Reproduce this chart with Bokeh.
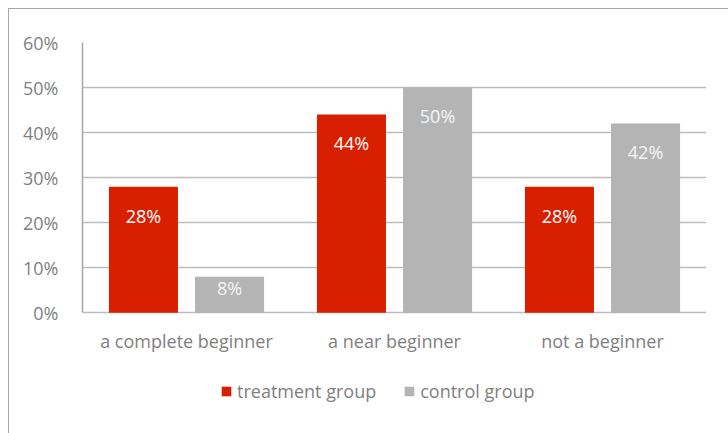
from bokeh.plotting import figure
from bokeh.models import ColumnDataSource, Legend, LegendItem, PrintfTickFormatter, FixedTicker
from bokeh.transform import dodge
from bokeh.core.properties import value
from bokeh.embed import file_html
from bokeh.resources import INLINE

categories = ["a complete beginner", "a near beginner", "not a beginner"]
treatment = [28, 44, 28]
control = [8, 50, 42]
series_names = ["treatment group", "control group"]
y_ticks = [0, 10, 20, 30, 40, 50, 60]

RED = "#D82000"
GRAY = "#B4B4B4"
TXT = "#7F7F7F"
FONT = "Open Sans"
FS = "18px"

def label_pos(vals):
    return [v - min(6.4, 0.3 * v) for v in vals]

src = ColumnDataSource(dict(
    cat=categories, t=treatment, c=control,
    tl=[f"{v}%" for v in treatment], cl=[f"{v}%" for v in control],
    ty=label_pos(treatment), cy=label_pos(control),
))

# frame extends below the 0% line to hold category labels and the legend
p = figure(x_range=categories, y_range=(-27, 60), width=720, height=425,
           output_backend="svg", toolbar_location=None,
           min_border_left=73, min_border_right=23, min_border_top=33, min_border_bottom=0)
p.margin = (8, 0, 0, 8)
p.outline_line_color = None
p.x_range.range_padding = 0
p.x_range.factor_padding = 0

off = 0.207
w = 0.332
r1 = p.vbar(x=dodge("cat", -off, range=p.x_range), top="t", width=w, source=src,
            fill_color=RED, line_color=None)
r2 = p.vbar(x=dodge("cat", off, range=p.x_range), top="c", width=w, source=src,
            fill_color=GRAY, line_color=None)

p.text(x=dodge("cat", -off, range=p.x_range), y="ty", text="tl", source=src,
       text_color="white", text_align="center", text_baseline="middle",
       text_font=value(FONT), text_font_size=FS)
p.text(x=dodge("cat", off, range=p.x_range), y="cy", text="cl", source=src,
       text_color="#F4F4F4", text_align="center", text_baseline="middle",
       text_font=value(FONT), text_font_size=FS)

# category labels under the 0% line
p.text(x="cat", y=0, text="cat", source=src, y_offset=28,
       text_color=TXT, text_align="center", text_baseline="middle",
       text_font=value(FONT), text_font_size=FS)

p.xaxis.visible = False
p.yaxis.ticker = FixedTicker(ticks=y_ticks)
p.yaxis.formatter = PrintfTickFormatter(format="%d%%")
p.yaxis.bounds = (0, 60)
p.yaxis.major_tick_line_color = None
p.yaxis.minor_tick_line_color = None
p.yaxis.axis_line_color = "#A6A6A6"
p.yaxis.axis_line_width = 1.5
p.yaxis.major_label_text_color = TXT
p.yaxis.major_label_text_font = FONT
p.yaxis.major_label_text_font_size = FS
p.yaxis.major_label_standoff = 18
p.xgrid.grid_line_color = None
p.ygrid.ticker = FixedTicker(ticks=y_ticks)
p.ygrid.grid_line_color = "#BDBDBD"
p.ygrid.grid_line_width = 1.5

legend = Legend(items=[LegendItem(label=series_names[0], renderers=[r1]),
                       LegendItem(label=series_names[1], renderers=[r2])],
                orientation="horizontal", location=(138, 31),
                label_text_color=TXT, label_text_font=FONT, label_text_font_size=FS,
                glyph_width=12, glyph_height=12, spacing=27, label_standoff=5,
                border_line_color=None, background_fill_alpha=0, margin=0, padding=0)
p.add_layout(legend, "center")
p.styles = {"border-top": "1.5px solid #A6A6A6", "border-left": "1.5px solid #A6A6A6"}

open("out.html", "w").write(file_html(p, INLINE))
